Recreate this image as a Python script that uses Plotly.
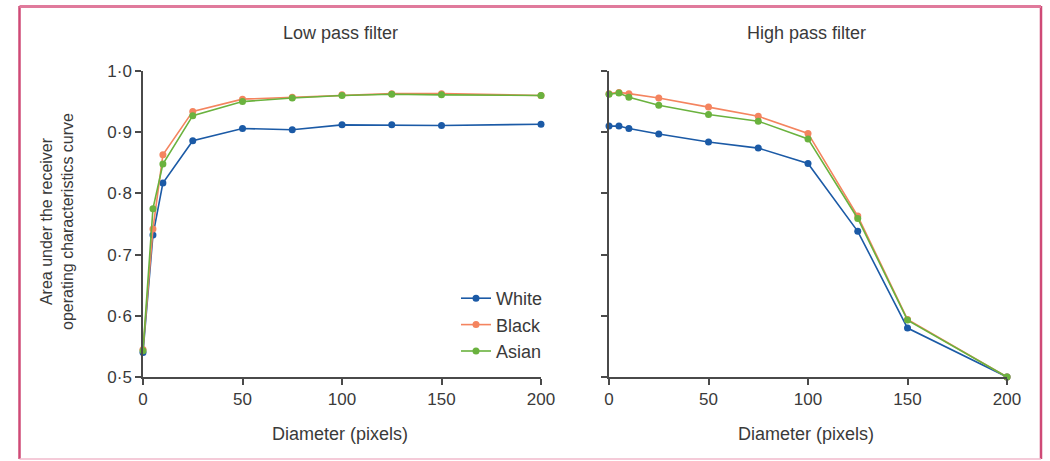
import plotly.graph_objects as go

diam = [0, 5, 10, 25, 50, 75, 100, 125, 150, 200]

low_white = [0.540, 0.732, 0.817, 0.886, 0.906, 0.904, 0.912, 0.912, 0.911, 0.913]
low_black = [0.545, 0.742, 0.863, 0.934, 0.954, 0.957, 0.961, 0.963, 0.963, 0.960]
low_asian = [0.543, 0.775, 0.848, 0.927, 0.950, 0.956, 0.960, 0.962, 0.961, 0.960]

high_white = [0.910, 0.910, 0.906, 0.897, 0.884, 0.874, 0.849, 0.738, 0.580, 0.500]
high_black = [0.963, 0.965, 0.963, 0.956, 0.941, 0.926, 0.898, 0.763, 0.594, 0.500]
high_asian = [0.962, 0.964, 0.957, 0.944, 0.929, 0.918, 0.889, 0.759, 0.593, 0.500]

series_names = ["White", "Black", "Asian"]
colors = ["#1b5aa6", "#f4845f", "#6ab23e"]

y_ticks = [0.5, 0.6, 0.7, 0.8, 0.9, 1.0]
y_ticktext = ["0·5", "0·6", "0·7", "0·8", "0·9", "1·0"]
x_ticks = [0, 50, 100, 150, 200]

FONT = "Liberation Sans, Arial, sans-serif"
TXT = "#3a3a3a"
AX = "#4a4a4a"

fig = go.Figure()
low = [low_white, low_black, low_asian]
high = [high_white, high_black, high_asian]
for i, name in enumerate(series_names):
    fig.add_trace(go.Scatter(x=diam, y=low[i], mode="lines+markers", name=name,
                             line=dict(color=colors[i], width=1.6),
                             marker=dict(color=colors[i], size=7),
                             cliponaxis=False, xaxis="x", yaxis="y", showlegend=True))
for i, name in enumerate(series_names):
    fig.add_trace(go.Scatter(x=diam, y=high[i], mode="lines+markers", name=name,
                             line=dict(color=colors[i], width=1.6),
                             marker=dict(color=colors[i], size=7),
                             cliponaxis=False, xaxis="x2", yaxis="y2", showlegend=False))

L, R, T, B = 143, 43, 71, 84
W, H = 1050, 461
pw = W - L - R
ph = H - T - B

def px_x(p):
    return (p - L) / pw

def px_y(p):
    return (H - B - p) / ph

axis_common = dict(showgrid=False, zeroline=False, showline=True, linecolor=AX, linewidth=1.5,
                   ticks="outside", ticklen=6, tickwidth=1.5, tickcolor=AX,
                   tickfont=dict(family=FONT, size=17, color=TXT))

title_font = dict(family=FONT, size=18, color=TXT)

fig.update_layout(
    width=W, height=H,
    margin=dict(l=L, r=R, t=T, b=B),
    paper_bgcolor="white", plot_bgcolor="white",
    font=dict(family=FONT, size=17, color=TXT),
    xaxis=dict(domain=[0, px_x(541)], range=[0, 200], tickvals=x_ticks, **axis_common),
    yaxis=dict(domain=[0, 1], range=[0.5, 1.0], tickvals=y_ticks, ticktext=y_ticktext, **axis_common),
    xaxis2=dict(domain=[px_x(609), 1], range=[0, 200], tickvals=x_ticks, anchor="y2", **axis_common),
    yaxis2=dict(domain=[0, 1], range=[0.5, 1.0], tickvals=y_ticks, showticklabels=False, anchor="x2",
                **axis_common),
    legend=dict(x=px_x(456), y=px_y(280), xanchor="left", yanchor="top",
                bgcolor="rgba(0,0,0,0)", font=dict(family=FONT, size=18, color=TXT),
                tracegroupgap=0),
    showlegend=True,
)

def ann(text, x, y, font, angle=0):
    fig.add_annotation(text=text, x=px_x(x), y=px_y(y), xref="paper", yref="paper",
                       xanchor="center", yanchor="middle", textangle=angle,
                       showarrow=False, font=font)

ann("Low pass filter", 340, 33, title_font)
ann("High pass filter", 806, 33, title_font)
ann("Diameter (pixels)", 340, 434, title_font)
ann("Diameter (pixels)", 806, 434, title_font)
ann("Area under the receiver<br>operating characteristics curve", 57, 222,
    dict(family=FONT, size=16, color=TXT), angle=-90)

# frame
fig.add_shape(type="line", xref="paper", yref="paper", x0=px_x(19.5), x1=px_x(19.5),
              y0=px_y(459), y1=px_y(6), line=dict(color="#cf4a76", width=2.5))
fig.add_shape(type="line", xref="paper", yref="paper", x0=px_x(1041), x1=px_x(1041),
              y0=px_y(459), y1=px_y(6), line=dict(color="#cf4a76", width=2.5))
fig.add_shape(type="line", xref="paper", yref="paper", x0=px_x(19.5), x1=px_x(1041),
              y0=px_y(6.5), y1=px_y(6.5), line=dict(color="#e07a9c", width=3))
fig.add_shape(type="line", xref="paper", yref="paper", x0=px_x(19.5), x1=px_x(1041),
              y0=px_y(459), y1=px_y(459), line=dict(color="#f2b8cb", width=1.5))

fig.write_html("out.html", config={"displayModeBar": False},
               post_script="document.body.style.margin='0px';document.body.style.padding='0px';")
